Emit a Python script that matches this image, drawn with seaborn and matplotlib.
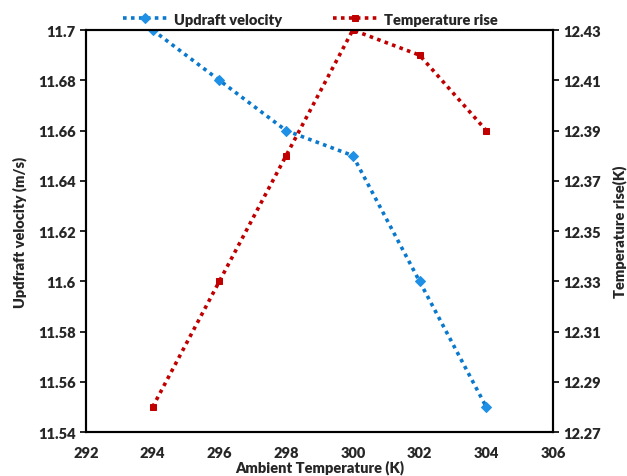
import matplotlib
matplotlib.use("Agg")
import matplotlib.pyplot as plt
import seaborn as sns
import pandas as pd

ambient_temp = [294, 296, 298, 300, 302, 304]
updraft_velocity = [11.70, 11.68, 11.66, 11.65, 11.60, 11.55]
temperature_rise = [12.28, 12.33, 12.38, 12.43, 12.42, 12.39]

x_ticks = [292, 294, 296, 298, 300, 302, 304, 306]
left_ticks = [11.54, 11.56, 11.58, 11.6, 11.62, 11.64, 11.66, 11.68, 11.7]
left_labels = ["11.54", "11.56", "11.58", "11.6", "11.62", "11.64", "11.66", "11.68", "11.7"]
right_ticks = [12.27, 12.29, 12.31, 12.33, 12.35, 12.37, 12.39, 12.41, 12.43]

sns.set_style("white")
plt.rcParams['font.family'] = ['Lato', 'DejaVu Sans']
plt.rcParams['font.weight'] = 'heavy'
plt.rcParams['axes.labelweight'] = 'heavy'

df = pd.DataFrame({"T": ambient_temp, "v": updraft_velocity, "r": temperature_rise})

fig = plt.figure(figsize=(6.27, 4.77), dpi=100)
ax = fig.add_axes([0.137, 0.092, 0.745, 0.843])
ax2 = ax.twinx()

blue = "#0A78CC"
blue_m = "#1E90E6"
red = "#C00000"

sns.lineplot(data=df, x="T", y="v", ax=ax, color=blue, linestyle=(0, (1, 1.2)), linewidth=2.6,
             marker="D", markersize=5.5, markerfacecolor=blue_m, markeredgecolor=blue_m,
             label="Updraft velocity", legend=False)
sns.lineplot(data=df, x="T", y="r", ax=ax2, color=red, linestyle=(0, (1, 1.2)), linewidth=2.6,
             marker="s", markersize=5, markerfacecolor=red, markeredgecolor=red,
             label="Temperature rise", legend=False)

ax.set_xlim(292, 306)
ax.set_ylim(11.54, 11.7)
ax2.set_ylim(12.27, 12.43)
ax.set_xticks(x_ticks)
ax.set_xticklabels([str(t) for t in x_ticks])
ax.set_yticks(left_ticks)
ax.set_yticklabels(left_labels)
ax2.set_yticks(right_ticks)
ax2.set_yticklabels([f"{t:.2f}" for t in right_ticks])

for a in (ax, ax2):
    for s in a.spines.values():
        s.set_color("black")
        s.set_linewidth(1.5)
    a.tick_params(axis="both", direction="out", length=4, width=1.2, labelsize=10.5, color="black")
    for lbl in a.get_xticklabels() + a.get_yticklabels():
        lbl.set_fontweight("heavy")
ax.tick_params(axis="x", pad=6)

ax.set_xlabel("Ambient Temperature (K)", fontsize=10.5, fontweight="heavy", labelpad=0)
ax.set_ylabel("Updfraft velocity (m/s)", fontsize=10.5, fontweight="heavy", labelpad=8)
ax2.set_ylabel("Temperature rise(K)", fontsize=10.5, fontweight="heavy", labelpad=8)

h1, l1 = ax.get_legend_handles_labels()
h2, l2 = ax2.get_legend_handles_labels()
leg = fig.legend(h1 + h2, l1 + l2, loc="center", bbox_to_anchor=(0.495, 0.958), ncol=2,
                 frameon=False, columnspacing=3.5, handlelength=3.0, handletextpad=0.5,
                 prop={"size": 10.5, "weight": "heavy"})

fig.savefig("out.png", dpi=100)
